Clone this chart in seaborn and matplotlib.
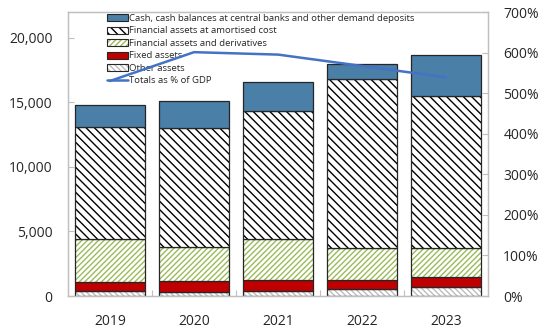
import numpy as np
import pandas as pd
import matplotlib
matplotlib.use("Agg")
import matplotlib.pyplot as plt
from matplotlib.patches import Patch
from matplotlib.lines import Line2D
from matplotlib.colors import to_rgba
from matplotlib.ticker import FuncFormatter, MultipleLocator, FixedLocator
import seaborn as sns

# Balance sheet composition by year (stacked, bottom to top)
years = ["2019", "2020", "2021", "2022", "2023"]
other_assets = [390, 330, 385, 515, 720]
fixed_assets = [710, 830, 850, 720, 770]
fin_derivatives = [3300, 2670, 3215, 2495, 2190]
fin_amortised = [8670, 9200, 9860, 13100, 11840]
cash_balances = [1730, 2080, 2240, 1110, 3140]
totals_pct_gdp = [530, 601, 595, 567, 539]

sns.set_theme(style="white")
plt.rcParams["font.family"] = ["Open Sans", "DejaVu Sans"]
plt.rcParams["hatch.linewidth"] = 1.0

EDGE = "#262626"
BLUE = "#4A7FA8"
GREEN = "#9BBB59"
RED = "#C00000"
GRAY_HATCH = "#BDBDBD"
AXIS_GRAY = "#BFBFBF"
LINE_BLUE = "#4472C4"
BAR_W = 0.845

H_AMORT = "\\\\\\\\"
H_DERIV = "//////"
H_OTHER = "\\\\\\\\\\\\"

fig = plt.figure(figsize=(5.42, 3.28), dpi=100)
ax = fig.add_axes([68 / 542, 1 - 296 / 328, 420 / 542, 284 / 328])

layers = [
    ("Other assets", other_assets, "white", H_OTHER, GRAY_HATCH),
    ("Fixed assets", fixed_assets, RED, None, None),
    ("Financial assets and derivatives", fin_derivatives, "white", H_DERIV, GREEN),
    ("Financial assets at amortised cost", fin_amortised, "white", H_AMORT, "black"),
    ("Cash, cash balances at central banks and other demand deposits",
     cash_balances, BLUE, None, None),
]

bottom = np.zeros(len(years))
for name, vals, face, hatch, hcol in layers:
    vals = np.asarray(vals, dtype=float)
    df = pd.DataFrame({"year": years, "value": vals})
    if hatch is not None:
        sns.barplot(data=df, x="year", y="value", bottom=bottom, color=face,
                    saturation=1, width=BAR_W, hatch=hatch, edgecolor=hcol,
                    linewidth=0, errorbar=None, ax=ax)
    else:
        sns.barplot(data=df, x="year", y="value", bottom=bottom, color=face,
                    saturation=1, width=BAR_W, linewidth=0, errorbar=None, ax=ax)
    # dark outline around every segment
    sns.barplot(data=df, x="year", y="value", bottom=bottom, color=EDGE,
                fill=False, width=BAR_W, linewidth=0.9, errorbar=None, ax=ax)
    bottom = bottom + vals

ax.set_xlim(-0.5, len(years) - 0.5)
ax.set_ylim(0, 22000)
ax.yaxis.set_major_locator(MultipleLocator(5000))
ax.yaxis.set_major_formatter(FuncFormatter(lambda v, p: f"{int(v):,}"))
ax.set_xlabel("")
ax.set_ylabel("")
ax.xaxis.set_minor_locator(FixedLocator([0.5, 1.5, 2.5, 3.5]))
ax.tick_params(axis="y", which="major", direction="in", length=4, color=AXIS_GRAY,
               width=0.8, labelsize=10, labelcolor="#262626", pad=11, left=True)
ax.tick_params(axis="x", which="major", length=0, labelsize=10, labelcolor="#262626", pad=13)
ax.tick_params(axis="x", which="minor", direction="in", length=4, color=AXIS_GRAY,
               width=0.8, bottom=True)
for sp in ax.spines.values():
    sp.set_color(AXIS_GRAY)
    sp.set_linewidth(0.9)

# Totals as a share of GDP on the secondary axis
ax2 = ax.twinx()
sns.lineplot(x=np.arange(len(years)), y=totals_pct_gdp, color=LINE_BLUE,
             linewidth=1.8, ax=ax2, legend=False)
ax2.set_ylim(0, 700)
ax2.yaxis.set_major_locator(MultipleLocator(100))
ax2.yaxis.set_major_formatter(FuncFormatter(lambda v, p: f"{int(v)}%"))
ax2.tick_params(axis="y", direction="in", length=4, color=AXIS_GRAY, width=0.8,
                labelsize=10, labelcolor="#262626", pad=11, right=True)
for sp in ax2.spines.values():
    sp.set_color(AXIS_GRAY)
    sp.set_linewidth(0.9)
ax2.grid(False)
ax.grid(False)


def legend_patch(face, hatch=None, hatch_color=None):
    p = Patch(facecolor=face, edgecolor=EDGE, linewidth=0.8, hatch=hatch)
    if hatch_color is not None:
        # hatch drawn in its own colour, outline stays dark
        p._hatch_color = to_rgba(hatch_color)
    return p


handles = [
    legend_patch(BLUE),
    legend_patch("white", H_AMORT, "black"),
    legend_patch("white", H_DERIV, GREEN),
    legend_patch(RED),
    legend_patch("white", H_OTHER, GRAY_HATCH),
    Line2D([], [], color=LINE_BLUE, linewidth=1.8),
]
labels = [
    "Cash, cash balances at central banks and other demand deposits",
    "Financial assets at amortised cost",
    "Financial assets and derivatives",
    "Fixed assets",
    "Other assets",
    "Totals as % of GDP",
]
ax.legend(handles, labels, loc="upper left", bbox_to_anchor=(0.088, 1.0),
          frameon=False, fontsize=6.8, handlelength=2.2, handleheight=0.75,
          handletextpad=0.15, labelspacing=0.37, borderaxespad=0.1, borderpad=0.1)

fig.savefig("out.png", dpi=100)
